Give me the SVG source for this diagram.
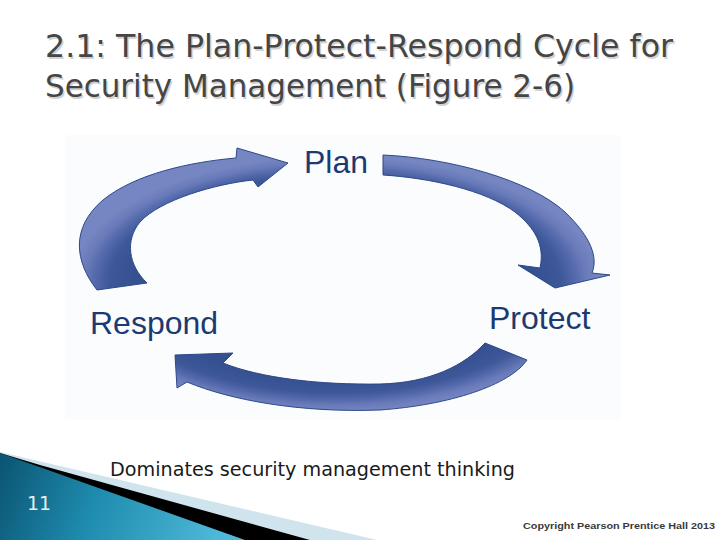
<svg xmlns="http://www.w3.org/2000/svg" width="720" height="540" viewBox="0 0 720 540">
  <defs>
    <radialGradient id="ring" gradientUnits="userSpaceOnUse" cx="0" cy="0" r="1" gradientTransform="translate(335,284) scale(265,128)">
      <stop offset="0.74" stop-color="#34508f"/>
      <stop offset="0.85" stop-color="#3d5798"/>
      <stop offset="0.9" stop-color="#5167a9"/>
      <stop offset="0.95" stop-color="#6a7bba"/>
      <stop offset="1" stop-color="#7686c2"/>
    </radialGradient>
    <linearGradient id="teal" x1="0" y1="460" x2="220" y2="540" gradientUnits="userSpaceOnUse">
      <stop offset="0" stop-color="#0b5573"/>
      <stop offset="0.45" stop-color="#1f8db0"/>
      <stop offset="1" stop-color="#4fb9d8"/>
    </linearGradient>
    <style>
      .arrow { fill: url(#ring); stroke: #2d4888; stroke-width: 1; stroke-linejoin: round; }
      .label { font-family: "Liberation Sans", Arial, sans-serif; font-size: 32px; fill: #1d3a70; }
      .title { font-family: "DejaVu Sans", "Liberation Sans", sans-serif; font-size: 32px; }
    </style>
  </defs>
  <rect x="0" y="0" width="720" height="540" fill="#ffffff"/>

  <!-- title -->
  <g id="title">
    <text class="title" x="46.5" y="58.5" textLength="628" lengthAdjust="spacingAndGlyphs" fill="#d2d2d2">2.1: The Plan-Protect-Respond Cycle for</text>
    <text class="title" x="46.5" y="98.5" textLength="530" lengthAdjust="spacingAndGlyphs" fill="#d2d2d2">Security Management (Figure 2-6)</text>
    <text class="title" x="45" y="57" textLength="628" lengthAdjust="spacingAndGlyphs" fill="#454545">2.1: The Plan-Protect-Respond Cycle for</text>
    <text class="title" x="45" y="97" textLength="530" lengthAdjust="spacingAndGlyphs" fill="#454545">Security Management (Figure 2-6)</text>
  </g>

  <!-- figure background -->
  <rect x="65" y="135" width="556" height="285" fill="#fbfcfe"/>

  <g id="connectors">
    <path id="respond-to-plan" class="arrow" d="M97,290 C75,262 70,228 103,200 C135,174 190,162 236,158 L237,148 L288,163 L258,187 L253,180 C215,184 160,200 140,222 C125,240 128,265 147,283 Z"/>
    <path id="plan-to-protect" class="arrow" d="M383,155 C450,158 530,180 565,212 C592,238 598,258 592,273 L610,275 L555,288 L518,265 L540,268 C545,245 535,228 515,212 C485,190 430,178 383,175 Z"/>
    <path id="protect-to-respond" class="arrow" d="M527,360 C510,385 450,405 380,410 C300,413 230,400 187,382 L177,388 L175,355 L233,353 L223,363 C260,378 320,385 380,384 C430,383 465,365 485,343 Z"/>
  </g>

  <g id="plan"><text class="label" x="304" y="173">Plan</text></g>
  <g id="protect"><text class="label" x="489" y="329">Protect</text></g>
  <g id="respond"><text class="label" x="90" y="334">Respond</text></g>

  <!-- footer decoration -->
  <g id="footer">
    <polygon points="0,452 377,540 0,540" fill="#cfe4ec"/>
    <polygon points="40,465 310,540 0,540 0,453" fill="#000000"/>
    <polygon points="0,453 245,540 0,540" fill="url(#teal)"/>
    <text x="27" y="510" font-family="DejaVu Sans, sans-serif" font-size="19" fill="#e6eef2">11</text>
    <text x="110" y="476" font-family="DejaVu Sans, sans-serif" font-size="19" textLength="405" lengthAdjust="spacingAndGlyphs" fill="#1a1a1a">Dominates security management thinking</text>
    <text x="523" y="529" font-family="Liberation Sans, Arial, sans-serif" font-size="9.5" font-weight="bold" textLength="192" lengthAdjust="spacingAndGlyphs" fill="#3a3a3a">Copyright Pearson Prentice Hall 2013</text>
  </g>
</svg>
